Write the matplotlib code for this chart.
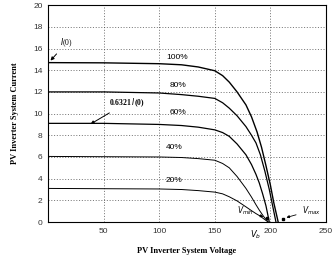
import matplotlib.pyplot as plt

volt_100 = [0, 50, 100, 120, 135, 150, 157, 163, 170, 178, 183, 188, 192, 196, 200, 203, 207]
curr_100 = [14.7, 14.68, 14.6, 14.5, 14.3, 13.95, 13.5, 12.9, 12.0, 10.8, 9.7, 8.3, 6.9, 5.2, 3.4, 1.8, 0]
volt_80 = [0, 50, 100, 120, 135, 150, 157, 163, 170, 178, 183, 187, 191, 195, 199, 202, 205]
curr_80 = [12.0, 12.0, 11.9, 11.75, 11.6, 11.4, 11.0, 10.5, 9.8, 8.8, 8.0, 7.3, 6.2, 4.7, 3.0, 1.5, 0]
volt_60 = [0, 50, 100, 120, 135, 150, 157, 163, 170, 178, 183, 187, 190, 193, 196, 199]
curr_60 = [9.1, 9.1, 9.0, 8.9, 8.75, 8.5, 8.25, 7.9, 7.2, 6.2, 5.3, 4.4, 3.6, 2.6, 1.5, 0]
volt_40 = [0, 100, 120, 135, 150, 157, 163, 170, 178, 183, 187, 190, 194, 198]
curr_40 = [6.05, 6.0, 5.95, 5.85, 5.7, 5.4, 5.0, 4.2, 3.1, 2.3, 1.6, 1.1, 0.5, 0]
volt_20 = [0, 100, 120, 135, 150, 157, 163, 170, 178, 183, 187, 190, 194, 198]
curr_20 = [3.1, 3.05, 3.0, 2.9, 2.76, 2.6, 2.33, 1.95, 1.4, 1.05, 0.78, 0.6, 0.3, 0]

labels = ['100%', '80%', '60%', '40%', '20%']
label_v = [106, 109, 109, 106, 106]
label_i = [15.2, 12.6, 10.1, 6.9, 3.85]

v_min = 197
v_max = 211
v_b = 187

fig = plt.figure(figsize=(3.34, 2.57), dpi=100)
ax = fig.add_axes([0.144, 0.136, 0.832, 0.844])

curves = [(volt_100, curr_100), (volt_80, curr_80), (volt_60, curr_60),
          (volt_40, curr_40), (volt_20, curr_20)]
widths = [1.0, 0.9, 0.9, 0.7, 0.7]
for (v, i), w in zip(curves, widths):
    ax.plot(v, i, color='black', lw=w)

for t, x, y in zip(labels, label_v, label_i):
    ax.text(x, y, t, fontsize=6, family='Liberation Sans', ha='left', va='center')

ax.set_xlim(0, 250)
ax.set_ylim(0, 20)
ax.set_xticks([50, 100, 150, 200, 250])
ax.set_yticks(range(0, 21, 2))
ax.tick_params(labelsize=6, length=0, pad=4, labelcolor='#333333')
for lab in ax.get_xticklabels() + ax.get_yticklabels():
    lab.set_family('Liberation Sans')
ax.grid(True, color='#444444', ls=(0, (1.5, 2.5)), lw=0.5)
for s in ax.spines.values():
    s.set_linewidth(0.8)

ax.set_xlabel('PV Inverter System Voltage', family='Liberation Serif',
              fontweight='bold', fontsize=6, labelpad=9)
ax.set_ylabel('PV Inverter System Current', family='Liberation Serif',
              fontweight='bold', fontsize=6, labelpad=10)

# annotations
ax.annotate('$I$(0)', xy=(0.5, 14.7), xytext=(11, 16.3), fontsize=5.5,
            family='Liberation Serif',
            arrowprops=dict(arrowstyle='-|>', color='black', lw=0.7, mutation_scale=5))
ax.annotate('0.6321 $I$(0)', xy=(36, 8.9), xytext=(55, 10.8), fontsize=5.5,
            family='Liberation Serif', fontweight='bold',
            arrowprops=dict(arrowstyle='-|>', color='black', lw=0.7, mutation_scale=5))
ax.plot([v_min, v_max], [0.35, 0.3], 's', color='black', ms=2, zorder=5)
ax.annotate('$V_{min}$', xy=(v_min - 1, 0.4), xytext=(170, 0.8), fontsize=5.5,
            arrowprops=dict(arrowstyle='-|>', color='black', lw=0.6, mutation_scale=4))
ax.annotate('$V_{max}$', xy=(v_max + 1, 0.35), xytext=(228, 0.8), fontsize=5.5,
            arrowprops=dict(arrowstyle='-|>', color='black', lw=0.6, mutation_scale=4))
ax.text(v_b, -0.55, '$V_b$', fontsize=6, ha='center', va='top', clip_on=False)

fig.savefig('out.png', dpi=100)
